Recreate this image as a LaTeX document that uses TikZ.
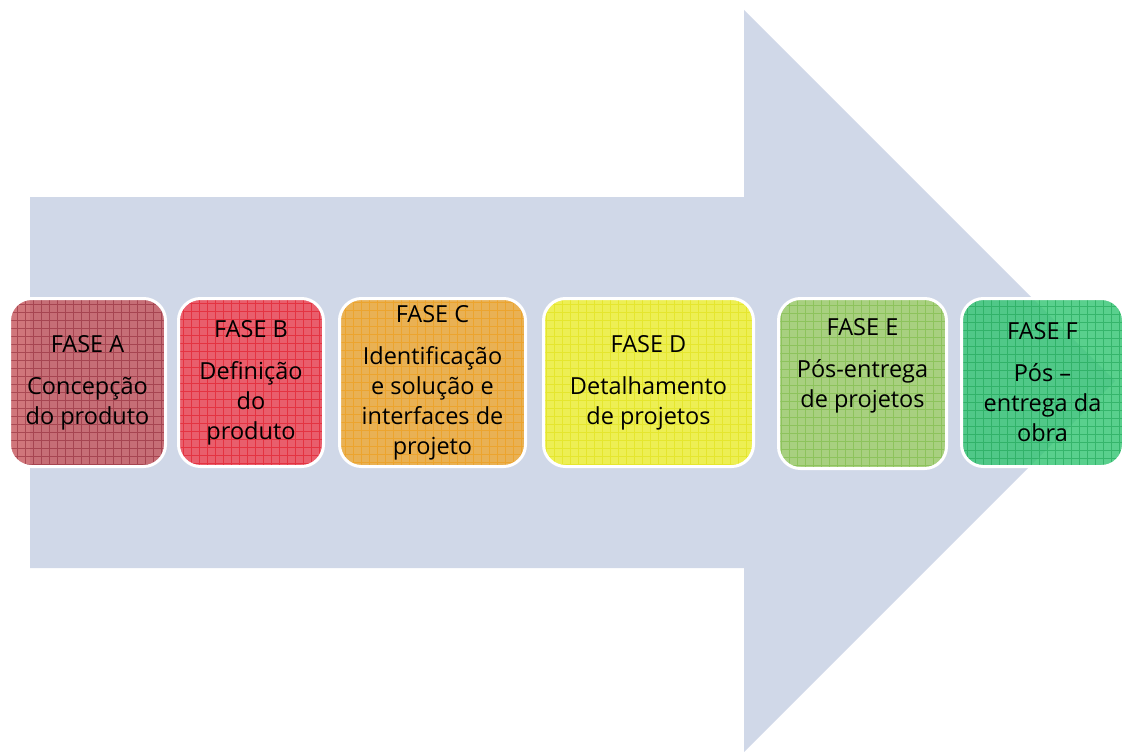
\documentclass[tikz,border=0pt]{standalone}
\usepackage{fontspec}
\setmainfont{Open Sans}
\definecolor{arrowfill}{HTML}{D0D8E8}
\definecolor{fillA}{HTML}{C4545A}\definecolor{gridA}{HTML}{8C2433}
\definecolor{fillB}{HTML}{F0404E}\definecolor{gridB}{HTML}{E0101E}
\definecolor{fillC}{HTML}{F0A830}\definecolor{gridC}{HTML}{F09A10}
\definecolor{fillD}{HTML}{F5F530}\definecolor{gridD}{HTML}{E0E010}
\definecolor{fillE}{HTML}{9ECE66}\definecolor{gridE}{HTML}{78BA40}
\definecolor{fillF}{HTML}{30C470}\definecolor{gridF}{HTML}{18A050}
\begin{document}
\begin{tikzpicture}[x=1pt,y=-1pt,
  phase/.style n args={4}{
    shape=rectangle, rounded corners=22pt, inner sep=0pt, outer sep=0pt,
    minimum width=#1, minimum height=#2,
    fill=#3, fill opacity=0.8, text opacity=1,
    draw=white, draw opacity=1, line width=3pt,
    align=center, font=\fontsize{23.5}{30}\selectfont,
    path picture={
      \draw[#4, opacity=0.55, line width=0.7pt, step=8pt]
        (path picture bounding box.south west) grid (path picture bounding box.north east);
    }}]
\useasboundingbox (0,0) rectangle (1127,752);

% big background arrow
\fill[arrowfill] (30,197) -- (744,197) -- (744,10) -- (1115,381)
  -- (744,752) -- (744,568) -- (30,568) -- cycle;

% phase boxes
\node[phase={156pt}{168pt}{fillA}{gridA}] (faseA) at (87.5,382.5)
  {FASE A\\[12pt]Concepção\\do produto};
\node[phase={145pt}{168pt}{fillB}{gridB}] (faseB) at (251,382.5)
  {FASE B\\[12pt]Definição\\do\\produto};
\node[phase={186pt}{168pt}{fillC}{gridC}] (faseC) at (432.5,382.5)
  {FASE C\\[12pt]Identificação\\e solução e\\interfaces de\\projeto};
\node[phase={210pt}{168pt}{fillD}{gridD}] (faseD) at (648.5,382.5)
  {FASE D\\[12pt]Detalhamento\\de projetos};
\node[phase={168pt}{170pt}{fillE}{gridE}] (faseE) at (862.5,383.5)
  {FASE E\\[12pt]Pós-entrega\\de projetos\\[12pt]\mbox{}};
\node[phase={162pt}{168pt}{fillF}{gridF}] (faseF) at (1042.5,382.5)
  {FASE F\\[12pt]Pós –\\entrega da\\obra};
\end{tikzpicture}
\end{document}
